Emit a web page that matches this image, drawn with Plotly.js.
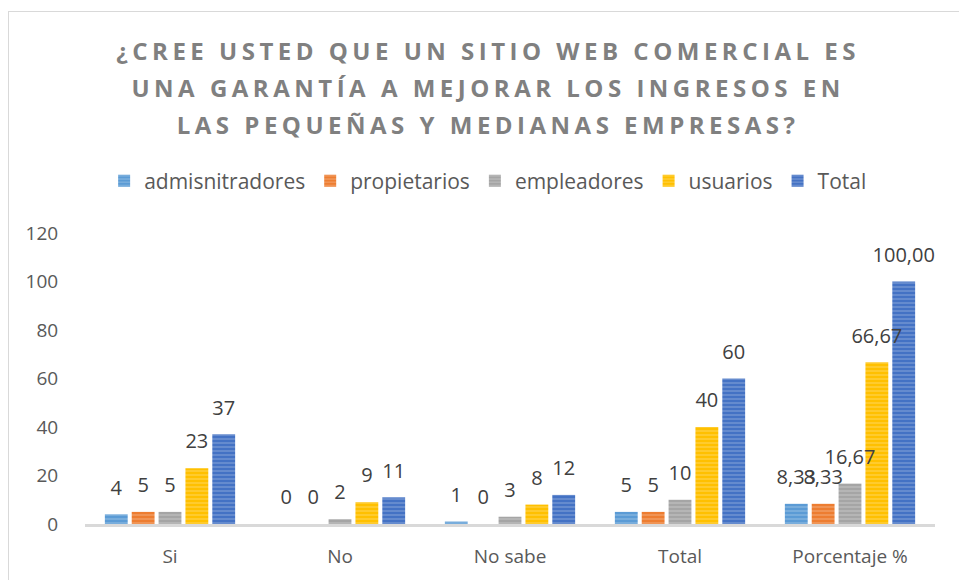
<!DOCTYPE html>
<html>
<head>
<meta charset="utf-8">
<script src="https://cdn.plot.ly/plotly-3.0.1.min.js"></script>
<style>
  html, body { margin: 0; padding: 0; background: #fff; }
  #chart { width: 959px; height: 580px; }
  #frame { position: absolute; left: 8px; top: 11px; width: 980px; height: 600px;
           border: 1.5px solid #d9d9d9; pointer-events: none; box-sizing: border-box; }
  .gtitle { letter-spacing: 4.5px; }
</style>
</head>
<body>
<div id="chart"></div>
<div id="frame"></div>
<script>
const categories = ['Si', 'No', 'No sabe', 'Total', 'Porcentaje %'];
const seriesNames = ['admisnitradores', 'propietarios', 'empleadores', 'usuarios', 'Total'];
const admisnitradores = [4, 0, 1, 5, 8.33];
const propietarios    = [5, 0, 0, 5, 8.33];
const empleadores     = [5, 2, 3, 10, 16.67];
const usuarios        = [23, 9, 8, 40, 66.67];
const totalSerie      = [37, 11, 12, 60, 100];
const labelsAdmin  = ['4', '0', '1', '5', '8,33'];
const labelsProp   = ['5', '0', '0', '5', '8,33'];
const labelsEmp    = ['5', '2', '3', '10', '16,67'];
const labelsUsu    = ['23', '9', '8', '40', '66,67'];
const labelsTotal  = ['37', '11', '12', '60', '100,00'];
const yTicks = [0, 20, 40, 60, 80, 100, 120];

const values = [admisnitradores, propietarios, empleadores, usuarios, totalSerie];
const labels = [labelsAdmin, labelsProp, labelsEmp, labelsUsu, labelsTotal];
const colors = ['#5B9BD5', '#ED7D31', '#A5A5A5', '#FFC000', '#4472C4'];

const FONT = 'Open Sans, sans-serif';
const TITLE_SIZE = 24;
const TITLE_LINE_PX = 37;
const traces = [];
values.forEach((v, i) => {
  traces.push({
    type: 'bar', name: seriesNames[i], x: categories, y: v,
    marker: { color: colors[i], line: { width: 0 },
      pattern: { shape: '-', size: 4, solidity: 0.35, fgcolor: 'rgba(255,255,255,0.5)', bgcolor: colors[i], fillmode: 'overlay' } },
    hoverinfo: 'skip'
  });
});
values.forEach((v, i) => {
  traces.push({
    type: 'scatter', mode: 'markers+text', x: categories, y: v, text: labels[i],
    textposition: 'top center', showlegend: false, hoverinfo: 'skip',
    marker: { size: 22, opacity: 0 },
    textfont: { family: FONT, size: 20, color: '#404040' },
    cliponaxis: false
  });
});

const layout = {
  width: 959, height: 580,
  margin: { l: 85, r: 24, t: 233, b: 56 },
  paper_bgcolor: '#fff', plot_bgcolor: '#fff',
  font: { family: FONT, color: '#595959', size: 20 },
  title: {
    text: '¿CREE USTED QUE UN SITIO WEB COMERCIAL ES<br>UNA GARANTÍA A MEJORAR LOS INGRESOS EN<br>LAS PEQUEÑAS Y MEDIANAS EMPRESAS?',
    font: { family: FONT, size: TITLE_SIZE, weight: 700, color: '#808080' },
    xref: 'container', x: 0.509, xanchor: 'center',
    yref: 'container', y: 1 - 60/580, yanchor: 'top'
  },
  barmode: 'group', bargap: 0.21, bargroupgap: 0.15,
  scattermode: 'group', scattergap: 0.21,
  showlegend: true,
  legend: {
    orientation: 'h', xref: 'container', x: 0.509, xanchor: 'center',
    yref: 'container', y: 1 - 181/580, yanchor: 'middle',
    font: { family: FONT, size: 21, color: '#595959' }, itemwidth: 30
  },
  xaxis: {
    type: 'category', showgrid: false, showline: true, linecolor: '#D9D9D9', linewidth: 2.5,
    ticks: 'outside', ticklen: 14, tickcolor: 'rgba(0,0,0,0)',
    tickfont: { family: FONT, size: 19, color: '#595959' }, fixedrange: true
  },
  yaxis: {
    range: [0, 120], tickvals: yTicks, showgrid: false, zeroline: false, showline: false,
    ticks: 'outside', ticklen: 22, tickcolor: 'rgba(0,0,0,0)',
    tickfont: { family: FONT, size: 19, color: '#595959' }, fixedrange: true
  }
};

Plotly.newPlot('chart', traces, layout, { staticPlot: true, displayModeBar: false }).then(() => {
  // widen the title's line spacing to match the reference
  document.querySelectorAll('.gtitle tspan.line').forEach(t => {
    const m = (t.getAttribute('dy') || '').match(/([\d.]+)em/);
    if (m) t.setAttribute('dy', (parseFloat(m[1]) / 1.3 * TITLE_LINE_PX / TITLE_SIZE) + 'em');
  });
});
</script>
</body>
</html>
